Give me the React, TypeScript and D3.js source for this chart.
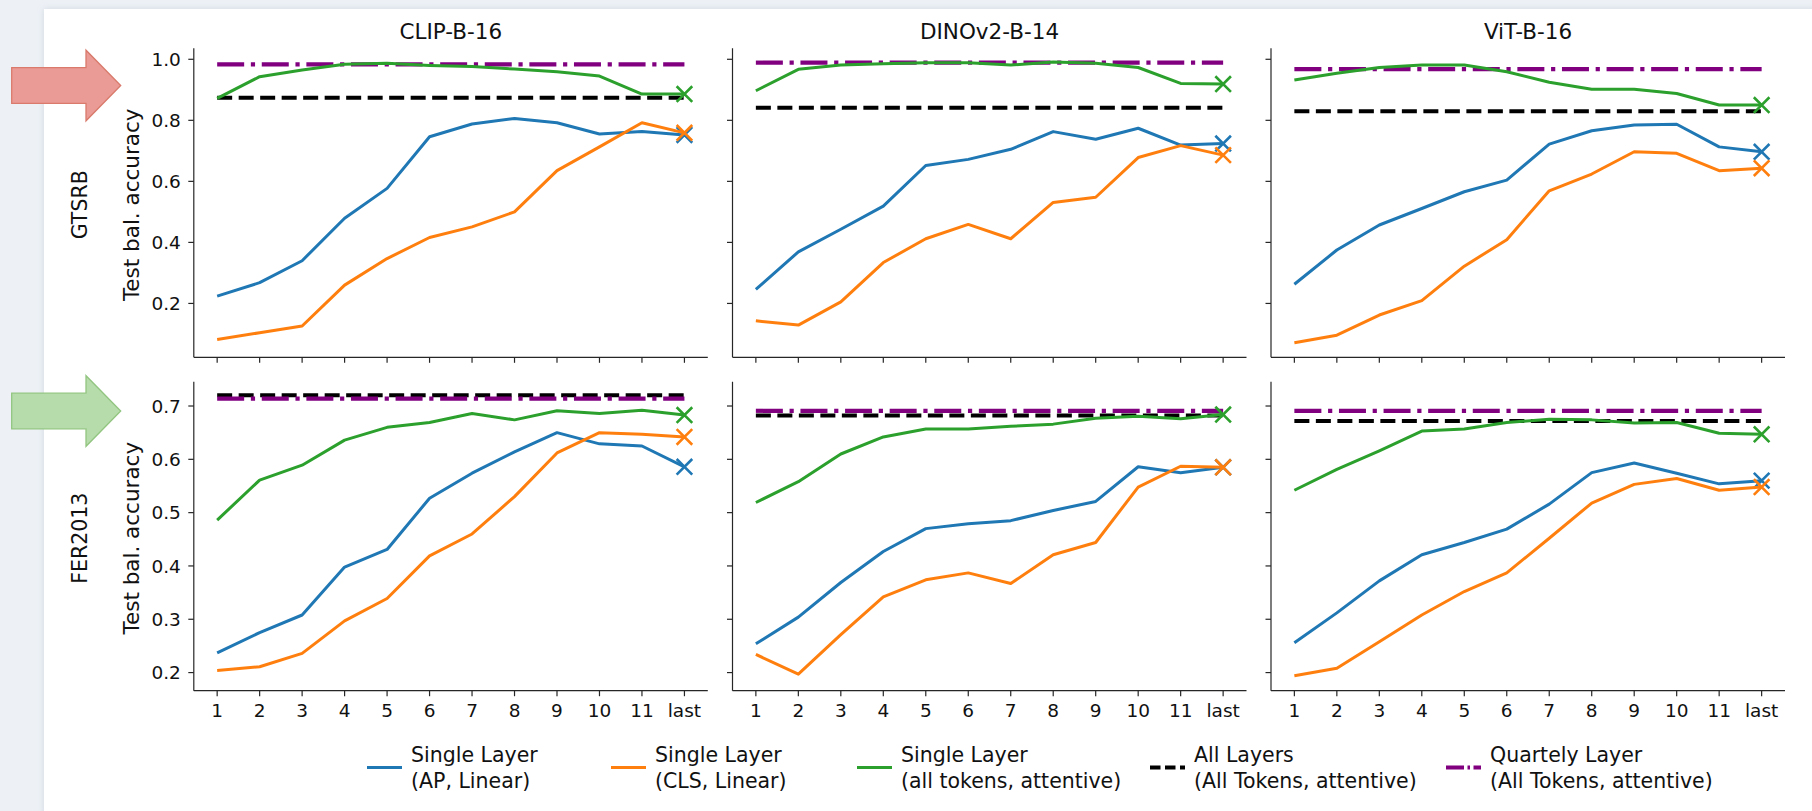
import React, { useEffect, useRef } from 'react';
import * as d3 from 'd3';

// x axis categories (layer index)
const layerLabels = ['1', '2', '3', '4', '5', '6', '7', '8', '9', '10', '11', 'last'];
const modelNames = ['CLIP-B-16', 'DINOv2-B-14', 'ViT-B-16'];
const datasetNames = ['GTSRB', 'FER2013'];

// GTSRB row, one array per model (CLIP, DINOv2, ViT)
const gtsrbAP = [
  [0.224, 0.268, 0.340, 0.479, 0.577, 0.746, 0.788, 0.806, 0.792, 0.755, 0.763, 0.752],
  [0.246, 0.369, 0.443, 0.519, 0.652, 0.672, 0.705, 0.763, 0.738, 0.774, 0.719, 0.724],
  [0.263, 0.375, 0.457, 0.511, 0.566, 0.604, 0.722, 0.766, 0.785, 0.787, 0.713, 0.697],
];
const gtsrbCLS = [
  [0.082, 0.104, 0.126, 0.260, 0.347, 0.416, 0.451, 0.500, 0.635, 0.713, 0.792, 0.759],
  [0.143, 0.129, 0.205, 0.334, 0.412, 0.459, 0.412, 0.531, 0.548, 0.678, 0.717, 0.686],
  [0.071, 0.096, 0.162, 0.209, 0.322, 0.409, 0.569, 0.624, 0.697, 0.692, 0.635, 0.643],
];
const gtsrbAttentive = [
  [0.872, 0.943, 0.965, 0.984, 0.987, 0.980, 0.976, 0.968, 0.959, 0.945, 0.886, 0.886],
  [0.897, 0.967, 0.981, 0.985, 0.989, 0.989, 0.981, 0.991, 0.987, 0.973, 0.921, 0.919],
  [0.932, 0.954, 0.973, 0.981, 0.981, 0.959, 0.925, 0.902, 0.902, 0.888, 0.850, 0.850],
];
const gtsrbAllLayers = [0.874, 0.841, 0.830];
const gtsrbQuartely = [0.983, 0.989, 0.968];

// FER2013 row
const ferAP = [
  [0.237, 0.275, 0.308, 0.398, 0.431, 0.527, 0.574, 0.614, 0.650, 0.629, 0.625, 0.586],
  [0.254, 0.304, 0.369, 0.427, 0.470, 0.479, 0.485, 0.504, 0.521, 0.586, 0.575, 0.585],
  [0.256, 0.312, 0.372, 0.421, 0.444, 0.469, 0.516, 0.575, 0.593, 0.574, 0.554, 0.560],
];
const ferCLS = [
  [0.204, 0.211, 0.236, 0.297, 0.339, 0.419, 0.460, 0.530, 0.612, 0.650, 0.647, 0.642],
  [0.234, 0.197, 0.271, 0.342, 0.374, 0.387, 0.367, 0.421, 0.444, 0.548, 0.587, 0.585],
  [0.194, 0.208, 0.258, 0.308, 0.352, 0.387, 0.452, 0.518, 0.553, 0.564, 0.542, 0.548],
];
const ferAttentive = [
  [0.486, 0.561, 0.589, 0.636, 0.660, 0.669, 0.686, 0.674, 0.691, 0.686, 0.692, 0.683],
  [0.519, 0.558, 0.610, 0.642, 0.657, 0.657, 0.662, 0.666, 0.677, 0.681, 0.676, 0.684],
  [0.542, 0.581, 0.616, 0.653, 0.657, 0.669, 0.675, 0.674, 0.668, 0.669, 0.649, 0.647],
];
const ferAllLayers = [0.720, 0.682, 0.672];
const ferQuartely = [0.714, 0.691, 0.691];

const gtsrbTicks = [0.2, 0.4, 0.6, 0.8, 1.0];
const ferTicks = [0.2, 0.3, 0.4, 0.5, 0.6, 0.7];

const legendLines1 = ['Single Layer', 'Single Layer', 'Single Layer', 'All Layers', 'Quartely Layer'];
const legendLines2 = ['(AP, Linear)', '(CLS, Linear)', '(all tokens, attentive)', '(All Tokens, attentive)', '(All Tokens, attentive)'];

const BLUE = '#1f77b4';
const ORANGE = '#ff7f0e';
const GREEN = '#2ca02c';
const PURPLE = '#800080';
const FONT = '"DejaVu Sans", sans-serif';

const App = () => {
  const svgRef = useRef<SVGSVGElement>(null);

  useEffect(() => {
    const svg = d3.select(svgRef.current);
    svg.selectAll('*').remove();

    const width = 1812;
    const height = 811;

    // page background and white card
    const defs = svg.append('defs');
    const f = defs.append('filter').attr('id', 'shadow').attr('x', -0.05).attr('y', -0.05).attr('width', 1.1).attr('height', 1.1);
    f.append('feDropShadow').attr('dx', 0).attr('dy', 0).attr('stdDeviation', 3).attr('flood-color', '#9aa6b8').attr('flood-opacity', 0.35);

    svg.append('rect').attr('width', width).attr('height', height).attr('fill', '#edf1f6');
    svg.append('rect').attr('x', 44).attr('y', 9).attr('width', width).attr('height', height)
      .attr('fill', '#ffffff').attr('filter', 'url(#shadow)');

    // arrows next to row labels
    const arrow = (cy: number, fill: string, stroke: string) => {
      const pts: [number, number][] = [
        [11.7, cy - 17.8], [86, cy - 17.8], [86, cy - 35.3], [120.7, cy],
        [86, cy + 35.3], [86, cy + 17.8], [11.7, cy + 17.8],
      ];
      svg.append('polygon').attr('points', pts.map(p => p.join(',')).join(' '))
        .attr('fill', fill).attr('stroke', stroke).attr('stroke-width', 1.3);
    };
    arrow(85.5, '#eb9b95', '#d97a6c');
    arrow(411, '#b7dcac', '#92c580');

    const colLeft = [193.8, 732.5, 1271];
    const axW = 514;
    const rowTop = [48.3, 381.7];
    const rowBottom = [357.3, 690.7];
    const yDomains: [number, number][] = [[0.0235, 1.036], [0.166, 0.7456]];
    const rowTicks = [gtsrbTicks, ferTicks];
    const rowSeries = [
      [gtsrbAP, gtsrbCLS, gtsrbAttentive],
      [ferAP, ferCLS, ferAttentive],
    ];
    const rowAll = [gtsrbAllLayers, ferAllLayers];
    const rowQuart = [gtsrbQuartely, ferQuartely];
    const seriesColors = [BLUE, ORANGE, GREEN];

    for (let r = 0; r < 2; r++) {
      for (let c = 0; c < 3; c++) {
        const left = colLeft[c];
        const x = d3.scaleLinear().domain([-0.55, layerLabels.length - 1 + 0.55]).range([left, left + axW]);
        const y = d3.scaleLinear().domain(yDomains[r]).range([rowBottom[r], rowTop[r]]);
        const g = svg.append('g');

        // spines
        g.append('line').attr('x1', left).attr('x2', left).attr('y1', rowTop[r]).attr('y2', rowBottom[r])
          .attr('stroke', '#262626').attr('stroke-width', 1.2);
        g.append('line').attr('x1', left).attr('x2', left + axW).attr('y1', rowBottom[r]).attr('y2', rowBottom[r])
          .attr('stroke', '#262626').attr('stroke-width', 1.2);

        // y ticks
        rowTicks[r].forEach(t => {
          g.append('line').attr('x1', left - 5.5).attr('x2', left).attr('y1', y(t)).attr('y2', y(t))
            .attr('stroke', '#262626').attr('stroke-width', 1.2);
          if (c === 0) {
            g.append('text').attr('x', left - 13).attr('y', y(t)).attr('dy', '0.36em')
              .attr('text-anchor', 'end').style('font-family', FONT).style('font-size', '18.5px')
              .style('fill', '#111').text(t.toFixed(1));
          }
        });

        // x ticks
        layerLabels.forEach((lab, i) => {
          g.append('line').attr('x1', x(i)).attr('x2', x(i)).attr('y1', rowBottom[r]).attr('y2', rowBottom[r] + 5.5)
            .attr('stroke', '#262626').attr('stroke-width', 1.2);
          if (r === 1) {
            g.append('text').attr('x', x(i)).attr('y', rowBottom[r] + 26.5)
              .attr('text-anchor', 'middle').style('font-family', FONT).style('font-size', '18.5px')
              .style('fill', '#111').text(lab);
          }
        });

        // reference lines
        const x0 = x(0);
        const x1 = x(layerLabels.length - 1);
        g.append('line').attr('x1', x0).attr('x2', x1).attr('y1', y(rowAll[r][c])).attr('y2', y(rowAll[r][c]))
          .attr('stroke', '#000').attr('stroke-width', 4).attr('stroke-dasharray', '15,6.5');
        g.append('line').attr('x1', x0).attr('x2', x1).attr('y1', y(rowQuart[r][c])).attr('y2', y(rowQuart[r][c]))
          .attr('stroke', PURPLE).attr('stroke-width', 4.2).attr('stroke-dasharray', '27,6.7,4.2,6.7');

        // series lines + x marker at last layer
        const line = d3.line<number>().x((d, i) => x(i)).y(d => y(d));
        rowSeries[r].forEach((series, s) => {
          const vals = series[c];
          g.append('path').datum(vals).attr('d', line)
            .attr('fill', 'none').attr('stroke', seriesColors[s]).attr('stroke-width', 3)
            .attr('stroke-linejoin', 'round');
          const lx = x(vals.length - 1);
          const ly = y(vals[vals.length - 1]);
          const m = 7.8;
          g.append('path').attr('d', `M${lx - m},${ly - m}L${lx + m},${ly + m}M${lx - m},${ly + m}L${lx + m},${ly - m}`)
            .attr('stroke', seriesColors[s]).attr('stroke-width', 2.6).attr('fill', 'none');
        });

        // titles
        if (r === 0) {
          svg.append('text').attr('x', left + axW / 2).attr('y', 38.5).attr('text-anchor', 'middle')
            .style('font-family', FONT).style('font-size', '21.5px').style('fill', '#111').text(modelNames[c]);
        }
      }

      // row label + y label
      const cy = (rowTop[r] + rowBottom[r]) / 2 + 2;
      svg.append('text').attr('transform', `translate(131,${cy}) rotate(-90)`).attr('dy', '0.36em')
        .attr('text-anchor', 'middle').style('font-family', FONT).style('font-size', '21.5px')
        .style('fill', '#111').text('Test bal. accuracy');
      svg.append('text').attr('transform', `translate(80,${cy}) rotate(-90)`).attr('dy', '0.36em')
        .attr('text-anchor', 'middle').style('font-family', FONT).style('font-size', '20.5px')
        .style('fill', '#111').text(datasetNames[r]);
    }

    // legend
    const legendX = [367, 611, 857, 1150, 1446];
    const legendStroke = [BLUE, ORANGE, GREEN, '#000', PURPLE];
    const legendDash = [null, null, null, '10.5,4.5', '18,3.5,2.5,3.5'];
    const legendWidth = [3, 3, 3, 4, 4];
    legendX.forEach((lx, i) => {
      const lg = svg.append('g');
      lg.append('line').attr('x1', lx).attr('x2', lx + 35).attr('y1', 767.5).attr('y2', 767.5)
        .attr('stroke', legendStroke[i]).attr('stroke-width', legendWidth[i])
        .attr('stroke-dasharray', legendDash[i]);
      lg.append('text').attr('x', lx + 44).attr('y', 761.5).style('font-family', FONT)
        .style('font-size', '20.5px').style('fill', '#111').text(legendLines1[i]);
      lg.append('text').attr('x', lx + 44).attr('y', 787.5).style('font-family', FONT)
        .style('font-size', '20.5px').style('fill', '#111').text(legendLines2[i]);
    });
  }, []);

  return (
    <svg ref={svgRef} width={1812} height={811}
      style={{ position: 'absolute', left: 0, top: 0, display: 'block' }} />
  );
};

export default App;
